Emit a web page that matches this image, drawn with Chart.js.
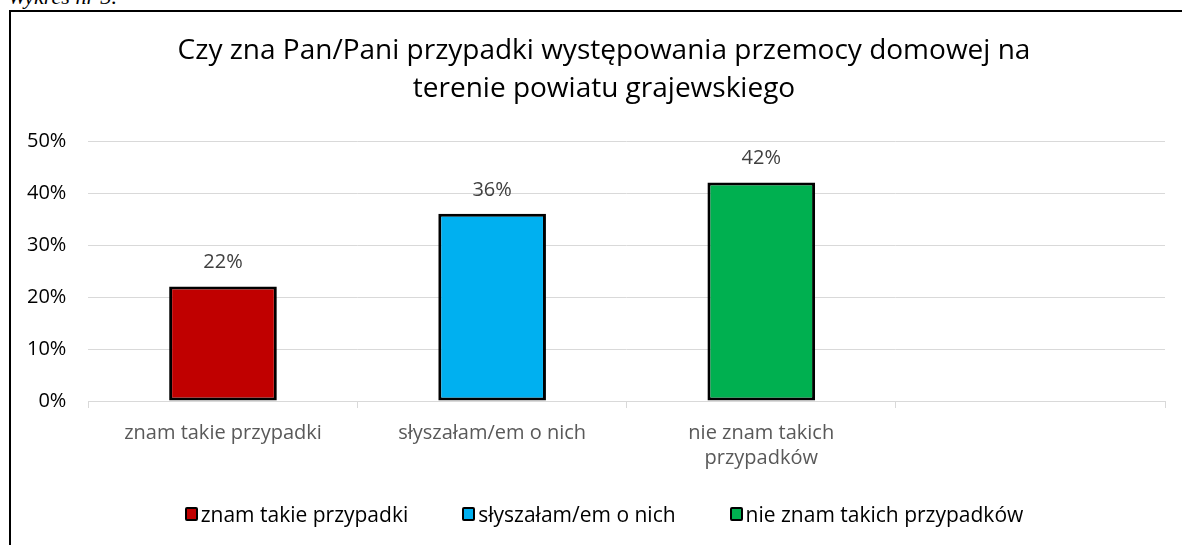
<!DOCTYPE html>
<html>
<head>
<meta charset="utf-8">
<script src="https://cdn.jsdelivr.net/npm/chart.js@4"></script>
<style>
  body { margin: 0; background: #fff; width: 1182px; height: 545px; overflow: hidden; position: relative; }
  #caption { position: absolute; left: 8px; top: -16px; font: italic 22px "Liberation Serif", serif; color: #000; }
  #frame { position: absolute; left: 9px; top: 10px; width: 1186px; height: 533px; border-left: 2px solid #000; border-top: 2px solid #000; }
  #legend { position: absolute; left: 0; width: 1186px; top: 488px; display: flex; justify-content: center; gap: 54px;
            font: 21px "Open Sans", sans-serif; color: #000; }
  #legend span.item { display: flex; align-items: center; }
  #legend span.box { width: 9px; height: 10px; border: 2px solid #000; border-radius: 2px; margin-right: 3px; }
</style>
</head>
<body>
<div id="caption">Wykres nr 3.</div>
<div id="frame">
  <canvas id="chart" width="1186" height="533"></canvas>
  <div id="legend"></div>
</div>
<script>
const titleLines = ["Czy zna Pan/Pani przypadki występowania przemocy domowej na", "terenie powiatu grajewskiego"];
const categories = ["znam takie przypadki", "słyszałam/em o nich", ["nie znam takich", "przypadków"], ""];
const seriesNames = ["znam takie przypadki", "słyszałam/em o nich", "nie znam takich przypadków"];
const znamValues = [22, null, null, null];
const slyszalamValues = [null, 36, null, null];
const nieZnamValues = [null, null, 42, null];
const seriesColors = ["#C00000", "#00B0F0", "#00B050"];
const yTicks = [0, 10, 20, 30, 40, 50];

const font = "'Open Sans', sans-serif";

// title centred on the whole chart frame (like Excel), not on the padded box
const frameTitle = {
  id: "frameTitle",
  afterDraw(chart) {
    const ctx = chart.ctx;
    ctx.save();
    ctx.font = "28px " + font;
    ctx.fillStyle = "#000";
    ctx.textAlign = "center";
    ctx.textBaseline = "middle";
    titleLines.forEach((line, i) => ctx.fillText(line, chart.width / 2, 39 + i * 38));
    ctx.restore();
  }
};

// value labels above the bars
const barLabels = {
  id: "barLabels",
  afterDatasetsDraw(chart) {
    const ctx = chart.ctx;
    ctx.save();
    ctx.font = "20px " + font;
    ctx.fillStyle = "#404040";
    ctx.textAlign = "center";
    ctx.textBaseline = "middle";
    chart.data.datasets.forEach((ds, i) => {
      chart.getDatasetMeta(i).data.forEach((bar, j) => {
        if (ds.data[j] == null) return;
        ctx.fillText(ds.data[j] + "%", bar.x, bar.y - 24);
      });
    });
    ctx.restore();
  }
};

const values = [znamValues, slyszalamValues, nieZnamValues];
const datasets = seriesNames.map((name, i) => ({
  label: name,
  data: values[i],
  backgroundColor: seriesColors[i],
  borderColor: "#000",
  borderWidth: 3,
  borderSkipped: false,
  categoryPercentage: 0.8,
  barPercentage: 0.5
}));

new Chart(document.getElementById("chart"), {
  type: "bar",
  data: { labels: categories, datasets: datasets },
  plugins: [barLabels, frameTitle],
  options: {
    responsive: false,
    animation: false,
    skipNull: true,
    layout: { padding: { left: -6, right: 32, top: 129, bottom: 61 } },
    plugins: {
      legend: { display: false },
      tooltip: { enabled: false },
      title: { display: false }
    },
    scales: {
      x: {
        grid: { drawOnChartArea: false, drawTicks: true, tickLength: 7, color: "#d9d9d9", lineWidth: 1 },
        border: { color: "#d9d9d9", width: 1 },
        ticks: { color: "#595959", font: { family: font, size: 20, lineHeight: 1.25 }, padding: 13, maxRotation: 0 }
      },
      y: {
        min: 0,
        max: 50,
        afterBuildTicks(scale) { scale.ticks = yTicks.map(v => ({ value: v })); },
        grid: { color: "#d9d9d9", lineWidth: 1, drawTicks: false },
        border: { display: false },
        ticks: { color: "#000", font: { family: font, size: 20 }, padding: 22, callback: v => v + "%" }
      }
    }
  }
});

// legend
const legend = document.getElementById("legend");
seriesNames.forEach((name, i) => {
  const item = document.createElement("span");
  item.className = "item";
  const box = document.createElement("span");
  box.className = "box";
  box.style.background = seriesColors[i];
  item.appendChild(box);
  item.appendChild(document.createTextNode(name));
  legend.appendChild(item);
});
</script>
</body>
</html>
